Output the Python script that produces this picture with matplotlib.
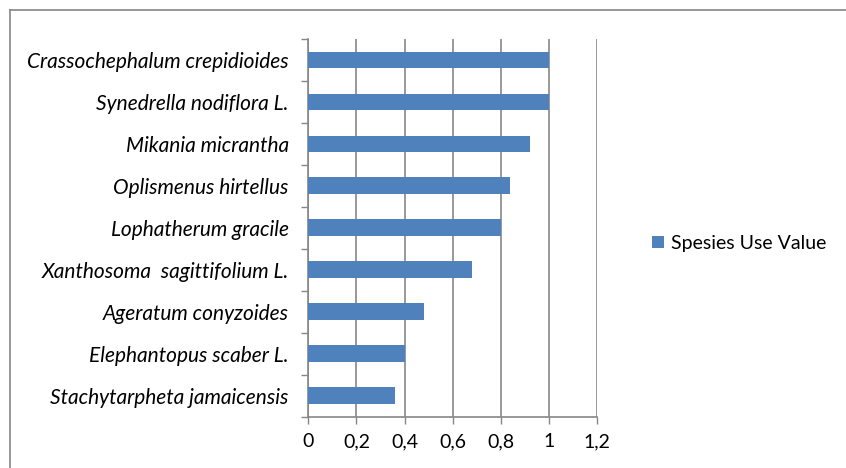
import numpy as np
import matplotlib.pyplot as plt
from matplotlib.lines import Line2D

species = [
    'Stachytarpheta jamaicensis',
    'Elephantopus scaber L.',
    'Ageratum conyzoides',
    'Xanthosoma  sagittifolium L.',
    'Lophatherum gracile',
    'Oplismenus hirtellus',
    'Mikania micrantha',
    'Synedrella nodiflora L.',
    'Crassochephalum crepidioides',
]
use_value = [0.36, 0.40, 0.48, 0.68, 0.80, 0.84, 0.92, 1.0, 1.0]
xticks = [0, 0.2, 0.4, 0.6, 0.8, 1.0, 1.2]
xtick_labels = ['0', '0,2', '0,4', '0,6', '0,8', '1', '1,2']

plt.rcParams['font.family'] = ['Lato', 'DejaVu Sans']
grey = '#868686'
bar_color = '#4F81BD'

fig = plt.figure(figsize=(8.46, 4.68), dpi=100)
ax = fig.add_axes([0.3644, 0.1096, 0.3413, 0.8071])

y = np.arange(len(species))
ax.barh(y, use_value, height=0.4, color=bar_color, zorder=3,
        label='Spesies Use Value')

ax.set_xlim(0, 1.2)
ax.set_ylim(-0.5, len(species) - 0.5)
ax.set_xticks(xticks)
ax.set_xticklabels(xtick_labels, fontsize=14)
ax.set_yticks(y)
ax.set_yticklabels(species, fontsize=15, fontstyle='italic')
ax.set_yticks(np.arange(len(species) + 1) - 0.5, minor=True)
ax.tick_params(axis='y', which='major', length=0, pad=14)
ax.tick_params(axis='y', which='minor', length=5, color=grey, width=1)
ax.tick_params(axis='x', length=5, color=grey, width=1, pad=7)
ax.xaxis.grid(True, color=grey, linewidth=1.2, zorder=0)

for side in ['top', 'right']:
    ax.spines[side].set_visible(False)
for side in ['left', 'bottom']:
    ax.spines[side].set_color(grey)
    ax.spines[side].set_linewidth(1.2)

fig.legend(loc='center left', bbox_to_anchor=(0.771, 0.48), frameon=False,
           fontsize=14, handlelength=0.6, handleheight=0.6, handletextpad=0.35,
           borderaxespad=0, borderpad=0)

# chart area frame (top and left edges)
fig.add_artist(Line2D([9.5 / 846, 1], [1 - 10 / 468, 1 - 10 / 468],
                      transform=fig.transFigure, color=grey, linewidth=1.2))
fig.add_artist(Line2D([9.5 / 846, 9.5 / 846], [0, 1 - 10 / 468],
                      transform=fig.transFigure, color=grey, linewidth=1.2))

fig.savefig('out.png', dpi=100)
